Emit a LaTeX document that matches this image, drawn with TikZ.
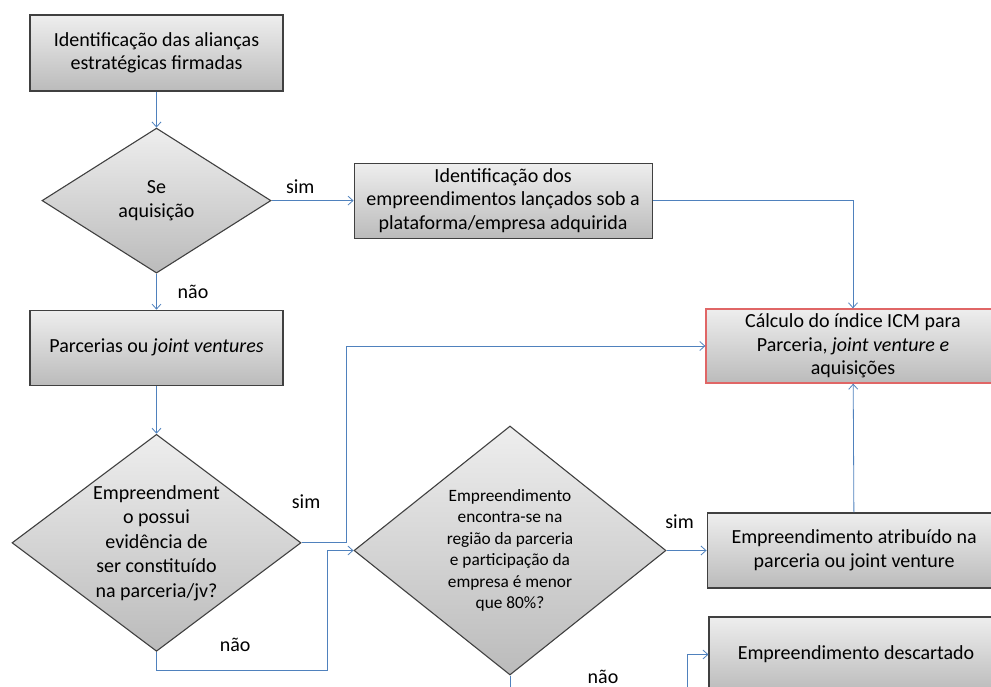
\documentclass[tikz,border=0pt]{standalone}
\usepackage{fontspec}
\setmainfont{Carlito}
\usepackage{tikz}
\usetikzlibrary{arrows.meta,shapes.geometric,positioning,calc}
\definecolor{fcLine}{HTML}{4F81BD}
\definecolor{fcEdge}{HTML}{404040}
\definecolor{fcTop}{HTML}{EEEEEE}
\definecolor{fcBot}{HTML}{BBBBBB}
\definecolor{fcRed}{HTML}{E06666}

\begin{document}
\begin{tikzpicture}[
  x=1pt, y=-1pt,
  font=\fontsize{20}{23.5}\selectfont,
  base/.style  = {draw=fcEdge, line width=1.1pt, top color=fcTop,
                  bottom color=fcBot, inner sep=0pt, align=center},
  bnode/.style = {base, minimum width=253pt, minimum height=76pt},
  wnode/.style = {base, minimum width=298pt, minimum height=75pt},
  dnode/.style = {base, shape=diamond},
  dtext/.style = {align=center, inner sep=0pt},
  arr/.style   = {-{Straight Barb[length=5pt,width=9pt]}, line width=0.8pt,
                  draw=fcLine},
  link/.style  = {line width=0.8pt, draw=fcLine},
  elbl/.style  = {inner sep=0pt, text=black},
]
\useasboundingbox (0,0) rectangle (991,687);
\clip (0,0) rectangle (991,687);

%── Left column: alliances ────────────────────────────────────────────────────
\node[bnode] (ali) at (156.5,53) {Identificação das alianças\\estratégicas firmadas};
\node[dnode, minimum width=229pt, minimum height=145pt, below=36pt of ali,
      label={[dtext]center:{Se\\aquisição}}] (aq) {};
\node[bnode, minimum height=75pt, below=36pt of aq] (par) {Parcerias ou \textit{joint ventures}};
\node[dnode, minimum width=289pt, minimum height=217pt, below=48pt of par,
      label={[dtext, font=\fontsize{20}{24.5}\selectfont]center:{Empreendment\\o possui\\evidência de\\ser constituído\\na parceria/jv?}}] (evi) {};

%── Acquisition branch ────────────────────────────────────────────────────────
\node[wnode, right=82pt of aq] (emp) {Identificação dos\\empreendimentos lançados sob a\\plataforma/empresa adquirida};

%── Right column: ICM and outcomes ────────────────────────────────────────────
\node[wnode, minimum width=294pt, minimum height=74pt, draw=fcRed, line width=1.3pt]
    (icm) at (853,346) {Cálculo do índice ICM para\\Parceria, \textit{joint venture e}\\aquisições};
\node[dnode, minimum width=312pt, minimum height=249pt,
      label={[dtext, font=\fontsize{17.3}{21.5}\selectfont]center:{Empreendimento\\encontra-se na\\região da parceria\\e participação da\\empresa é menor\\que 80\%?}}]
    (reg) at (510,550.5) {};
\node[wnode, minimum width=294pt, right=40pt of reg] (atr) {Empreendimento atribuído na\\parceria ou joint venture};
\node[wnode, minimum width=294pt] (des) at (856,654.5) {Empreendimento descartado};

\coordinate (regout) at (510,700);
\coordinate (desin)  at (687,700);

%── Connectors ────────────────────────────────────────────────────────────────
\draw[arr] (ali) -- (aq);
\draw[arr] (aq) -- (emp) node[elbl, pos=0.35, yshift=13.5pt]{sim};
\draw[arr] (emp.east) -| (icm.north);
\draw[arr] (aq) -- (par) node[elbl, midway, xshift=36.5pt]{não};
\draw[arr] (par) -- (evi);
\draw[arr] (evi.east) -- ++(45,0) node[elbl, pos=0.1, yshift=41.5pt]{sim} |- (icm.west);
\draw[arr] (evi.south) |- ++(171,19) node[elbl, pos=0.73, yshift=26pt]{não} |- (reg.west);
\draw[arr] (reg) -- (atr) node[elbl, pos=0.325, yshift=28.5pt]{sim};
\draw[arr] (atr) -- (icm);
\draw[link] (reg.south) -- (regout) node[elbl, pos=0, xshift=93pt, yshift=-1pt]{não};
\draw[arr] (desin) |- (des.west);

\end{tikzpicture}
\end{document}
